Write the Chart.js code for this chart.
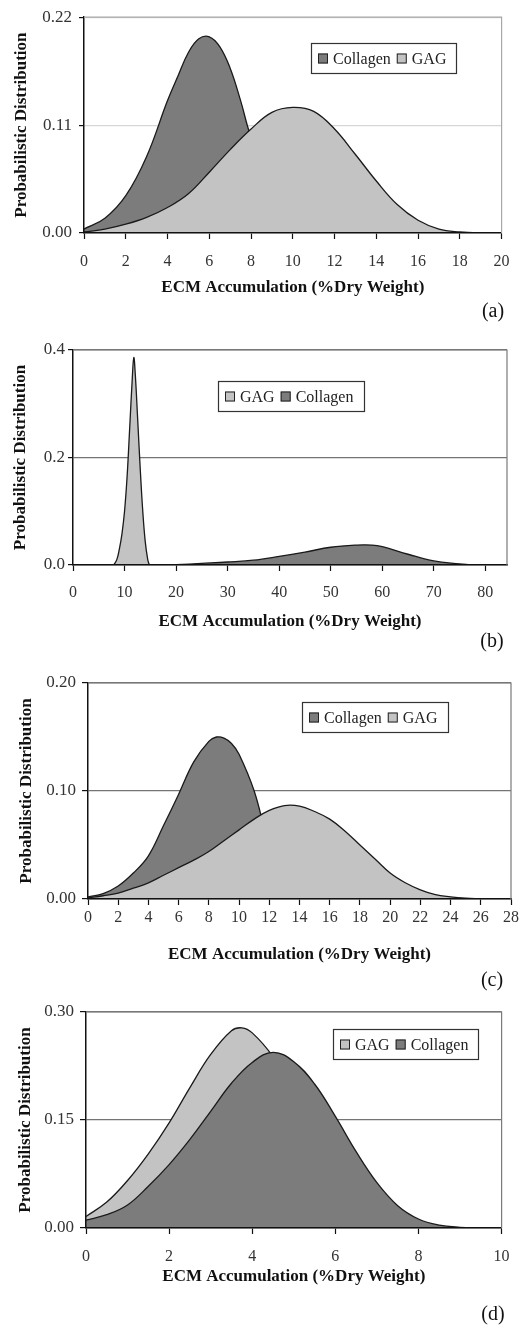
<!DOCTYPE html>
<html>
<head>
<meta charset="utf-8">
<title>ECM Accumulation - Probabilistic Distribution</title>
<script src="https://cdn.jsdelivr.net/npm/chart.js@4.4.1/dist/chart.umd.min.js"></script>
<style>
  body { margin: 0; background: #fff; }
  #wrap { position: relative; width: 523px; height: 1327px; }
  canvas { position: absolute; left: 0; }
</style>
</head>
<body>
<div id="wrap">
  <canvas id="chartA" width="523" height="330" style="top:0px"></canvas>
  <canvas id="chartB" width="523" height="330" style="top:330px"></canvas>
  <canvas id="chartC" width="523" height="335" style="top:660px"></canvas>
  <canvas id="chartD" width="523" height="337" style="top:990px"></canvas>
</div>
<script>
// Panel (a)
const colAX = [0, 1, 2, 3, 4, 4.5, 5, 5.5, 6, 6.5, 7, 7.5, 8, 9, 10, 11, 12, 13];
const colAY = [0.004, 0.015, 0.038, 0.078, 0.135, 0.160, 0.184, 0.198, 0.200, 0.190, 0.168, 0.135, 0.098, 0.050, 0.020, 0.006, 0.001, 0];
const gagAX = [0, 1, 2, 3, 4, 5, 6, 7, 8, 9, 10, 11, 12, 13, 14, 15, 16, 17, 18, 19, 20];
const gagAY = [0.001, 0.004, 0.009, 0.016, 0.026, 0.040, 0.062, 0.085, 0.106, 0.123, 0.128, 0.124, 0.106, 0.080, 0.053, 0.029, 0.013, 0.004, 0.001, 0, 0];
const xTicksA = [0, 2, 4, 6, 8, 10, 12, 14, 16, 18, 20];
const yTicksA = [0, 0.11, 0.22];

// Panel (b)
const gagBX = [7.9, 8.5, 9, 9.5, 10, 10.5, 11, 11.5, 11.8, 12.1, 12.5, 13, 13.5, 14, 14.5, 14.8];
const gagBY = [0, 0.01, 0.03, 0.058, 0.10, 0.165, 0.255, 0.347, 0.386, 0.352, 0.28, 0.187, 0.105, 0.045, 0.01, 0];
const colBX = [20, 25, 30, 35, 40, 45, 50, 55, 58, 60, 65, 70, 75, 77];
const colBY = [0.0005, 0.003, 0.0056, 0.009, 0.016, 0.024, 0.033, 0.037, 0.037, 0.034, 0.020, 0.0075, 0.002, 0.0005];
const xTicksB = [0, 10, 20, 30, 40, 50, 60, 70, 80];
const yTicksB = [0, 0.2, 0.4];

// Panel (c)
const colCX = [0, 1, 2, 3, 4, 5, 6, 7, 8, 8.5, 9, 9.5, 10, 11, 12, 13, 14, 15, 16];
const colCY = [0.002, 0.005, 0.012, 0.024, 0.040, 0.068, 0.097, 0.127, 0.146, 0.150, 0.149, 0.144, 0.134, 0.100, 0.050, 0.020, 0.006, 0.001, 0];
const gagCX = [0, 1, 2, 3, 4, 5, 6, 7, 8, 9, 10, 11, 12, 13, 14, 15, 16, 17, 18, 19, 20, 21, 22, 23, 24, 25, 26];
const gagCY = [0.001, 0.003, 0.0055, 0.010, 0.015, 0.022, 0.029, 0.036, 0.044, 0.054, 0.064, 0.074, 0.082, 0.0865, 0.086, 0.081, 0.074, 0.063, 0.050, 0.037, 0.024, 0.015, 0.0085, 0.004, 0.002, 0.0007, 0];
const xTicksC = [0, 2, 4, 6, 8, 10, 12, 14, 16, 18, 20, 22, 24, 26, 28];
const yTicksC = [0, 0.10, 0.20];

// Panel (d)
const gagDX = [0, 0.5, 1, 1.5, 2, 2.5, 3, 3.5, 3.75, 4, 4.5, 5, 5.5, 6, 6.5, 7, 7.5, 8, 8.5, 9];
const gagDY = [0.016, 0.036, 0.066, 0.103, 0.146, 0.195, 0.241, 0.274, 0.278, 0.271, 0.238, 0.19, 0.135, 0.085, 0.045, 0.02, 0.008, 0.003, 0.001, 0];
const colDX = [0, 0.5, 1, 1.5, 2, 2.5, 3, 3.5, 4, 4.5, 5, 5.5, 6, 6.5, 7, 7.5, 8, 8.5, 9, 9.5];
const colDY = [0.011, 0.0185, 0.032, 0.058, 0.088, 0.123, 0.162, 0.201, 0.230, 0.244, 0.231, 0.200, 0.155, 0.106, 0.063, 0.031, 0.0125, 0.004, 0.001, 0];
const xTicksD = [0, 2, 4, 6, 8, 10];
const yTicksD = [0, 0.15, 0.30];

const SERIF = '"Liberation Serif", "Times New Roman", serif';
const DARK = '#7c7c7c';
const LIGHT = '#c3c3c3';

Chart.defaults.font.family = SERIF;

function series(label, xs, ys, color) {
  return {
    label: label,
    data: xs.map((x, i) => ({ x: x, y: ys[i] })),
    backgroundColor: color,
    borderColor: '#1a1a1a',
    borderWidth: 1.3,
    fill: 'origin',
    tension: 0.4,
    pointRadius: 0
  };
}

// frame, boxed legend and panel letter drawn inside the canvas
const panelDecor = {
  id: 'panelDecor',
  afterDraw(chart, args, o) {
    const ctx = chart.ctx, a = chart.chartArea;
    ctx.save();
    ctx.strokeStyle = o.frameColor;
    ctx.lineWidth = 1.2;
    ctx.beginPath();
    ctx.moveTo(a.left, a.top);
    ctx.lineTo(a.right, a.top);
    ctx.lineTo(a.right, a.bottom);
    ctx.stroke();

    const lg = o.legend;
    ctx.fillStyle = '#fff';
    ctx.fillRect(lg.x, lg.y, lg.w, lg.h);
    ctx.strokeStyle = '#333';
    ctx.lineWidth = 1.2;
    ctx.strokeRect(lg.x + 0.5, lg.y + 0.5, lg.w, lg.h);
    ctx.font = '16px ' + SERIF;
    ctx.textBaseline = 'middle';
    ctx.textAlign = 'left';
    let x = lg.x + 7;
    const cy = lg.y + lg.h / 2 + 0.5;
    lg.order.forEach(label => {
      const ds = chart.data.datasets.find(d => d.label === label);
      ctx.fillStyle = ds.backgroundColor;
      ctx.fillRect(x, cy - 5, 10, 10);
      ctx.strokeStyle = '#222';
      ctx.lineWidth = 1;
      ctx.strokeRect(x + 0.5, cy - 4.5, 9, 9);
      x += 15;
      ctx.fillStyle = '#222';
      ctx.fillText(label, x, cy + 1);
      x += ctx.measureText(label).width + 6;
    });

    ctx.font = '20px ' + SERIF;
    ctx.textAlign = 'center';
    ctx.fillStyle = '#111';
    ctx.fillText(o.tag.text, o.tag.x, o.tag.y);
    ctx.restore();
  }
};

function makePanel(id, p) {
  new Chart(document.getElementById(id), {
    type: 'line',
    data: { datasets: p.datasets },
    plugins: [panelDecor],
    options: {
      responsive: false,
      animation: false,
      devicePixelRatio: 1,
      layout: { padding: { left: 0, top: p.top, right: p.right, bottom: p.bottom } },
      plugins: {
        legend: { display: false },
        tooltip: { enabled: false },
        panelDecor: { frameColor: p.frameColor, legend: p.legend, tag: p.tag }
      },
      scales: {
        x: {
          type: 'linear',
          min: 0,
          max: p.xMax,
          afterBuildTicks: s => { s.ticks = p.xTicks.map(v => ({ value: v })); },
          afterFit: s => { s.height = 70; },
          grid: { drawOnChartArea: false, tickLength: 6, tickColor: '#111', tickWidth: 1.2 },
          border: { color: '#111', width: 1.5, z: 1 },
          ticks: {
            autoSkip: false, maxRotation: 0, padding: p.xTickPad,
            color: '#333', font: { size: 16 },
            callback: v => String(v)
          },
          title: {
            display: true, text: 'ECM Accumulation (%Dry Weight)',
            color: '#111', font: { size: 17, weight: 'bold' },
            padding: { top: 0, bottom: p.xTitlePad }
          }
        },
        y: {
          min: 0,
          max: p.yTicks[p.yTicks.length - 1],
          afterBuildTicks: s => { s.ticks = p.yTicks.map(v => ({ value: v })); },
          afterFit: s => { s.width = p.yWidth; },
          grid: { color: p.gridColor, lineWidth: 1.2, tickLength: p.yTickLen, tickColor: '#111', tickWidth: 1.2 },
          border: { color: '#111', width: 1.5, z: 1 },
          ticks: {
            padding: p.yTickPad, color: '#333', font: { size: 17 },
            callback: v => v.toFixed(p.yDigits)
          },
          title: {
            display: true, text: 'Probabilistic Distribution',
            color: '#111', font: { size: 17, weight: 'bold' },
            padding: { top: p.yTitlePad, bottom: 0 }
          }
        }
      }
    }
  });
}

makePanel('chartA', {
  datasets: [series('GAG', gagAX, gagAY, LIGHT), series('Collagen', colAX, colAY, DARK)],
  xMax: 20, xTicks: xTicksA, yTicks: yTicksA, yDigits: 2,
  top: 16, right: 16, bottom: 27, yWidth: 84,
  yTickPad: 7, yTickLen: 5, yTitlePad: 11.5, xTickPad: 13.4, xTitlePad: 4.8,
  gridColor: '#d6d6d6', frameColor: '#a8a8a8',
  legend: { x: 311, y: 43, w: 145, h: 30, order: ['Collagen', 'GAG'] },
  tag: { text: '(a)', x: 493, y: 312 }
});

makePanel('chartB', {
  datasets: [series('GAG', gagBX, gagBY, LIGHT), series('Collagen', colBX, colBY, DARK)],
  xMax: 84.2, xTicks: xTicksB, yTicks: yTicksB, yDigits: 1,
  top: 20, right: 16, bottom: 25, yWidth: 73,
  yTickPad: 3, yTickLen: 5, yTitlePad: 10.6, xTickPad: 12.4, xTitlePad: 2.8,
  gridColor: '#747474', frameColor: '#7a7a7a',
  legend: { x: 218, y: 51, w: 146, h: 30, order: ['GAG', 'Collagen'] },
  tag: { text: '(b)', x: 492, y: 312 }
});

makePanel('chartC', {
  datasets: [series('GAG', gagCX, gagCY, LIGHT), series('Collagen', colCX, colCY, DARK)],
  xMax: 28, xTicks: xTicksC, yTicks: yTicksC, yDigits: 2,
  top: 23, right: 12, bottom: 26, yWidth: 88,
  yTickPad: 6, yTickLen: 6, yTitlePad: 16.5, xTickPad: 3.4, xTitlePad: 3.8,
  gridColor: '#747474', frameColor: '#7a7a7a',
  legend: { x: 302, y: 42, w: 146, h: 30, order: ['Collagen', 'GAG'] },
  tag: { text: '(c)', x: 492, y: 321 }
});

makePanel('chartD', {
  datasets: [series('Collagen', colDX, colDY, DARK), series('GAG', gagDX, gagDY, LIGHT)],
  xMax: 10, xTicks: xTicksD, yTicks: yTicksD, yDigits: 2,
  top: 22, right: 15, bottom: 29, yWidth: 86,
  yTickPad: 6, yTickLen: 6, yTitlePad: 15.3, xTickPad: 13.4, xTitlePad: 11.1,
  gridColor: '#747474', frameColor: '#7a7a7a',
  legend: { x: 333, y: 39, w: 145, h: 30, order: ['GAG', 'Collagen'] },
  tag: { text: '(d)', x: 493, y: 325 }
});
</script>
</body>
</html>
